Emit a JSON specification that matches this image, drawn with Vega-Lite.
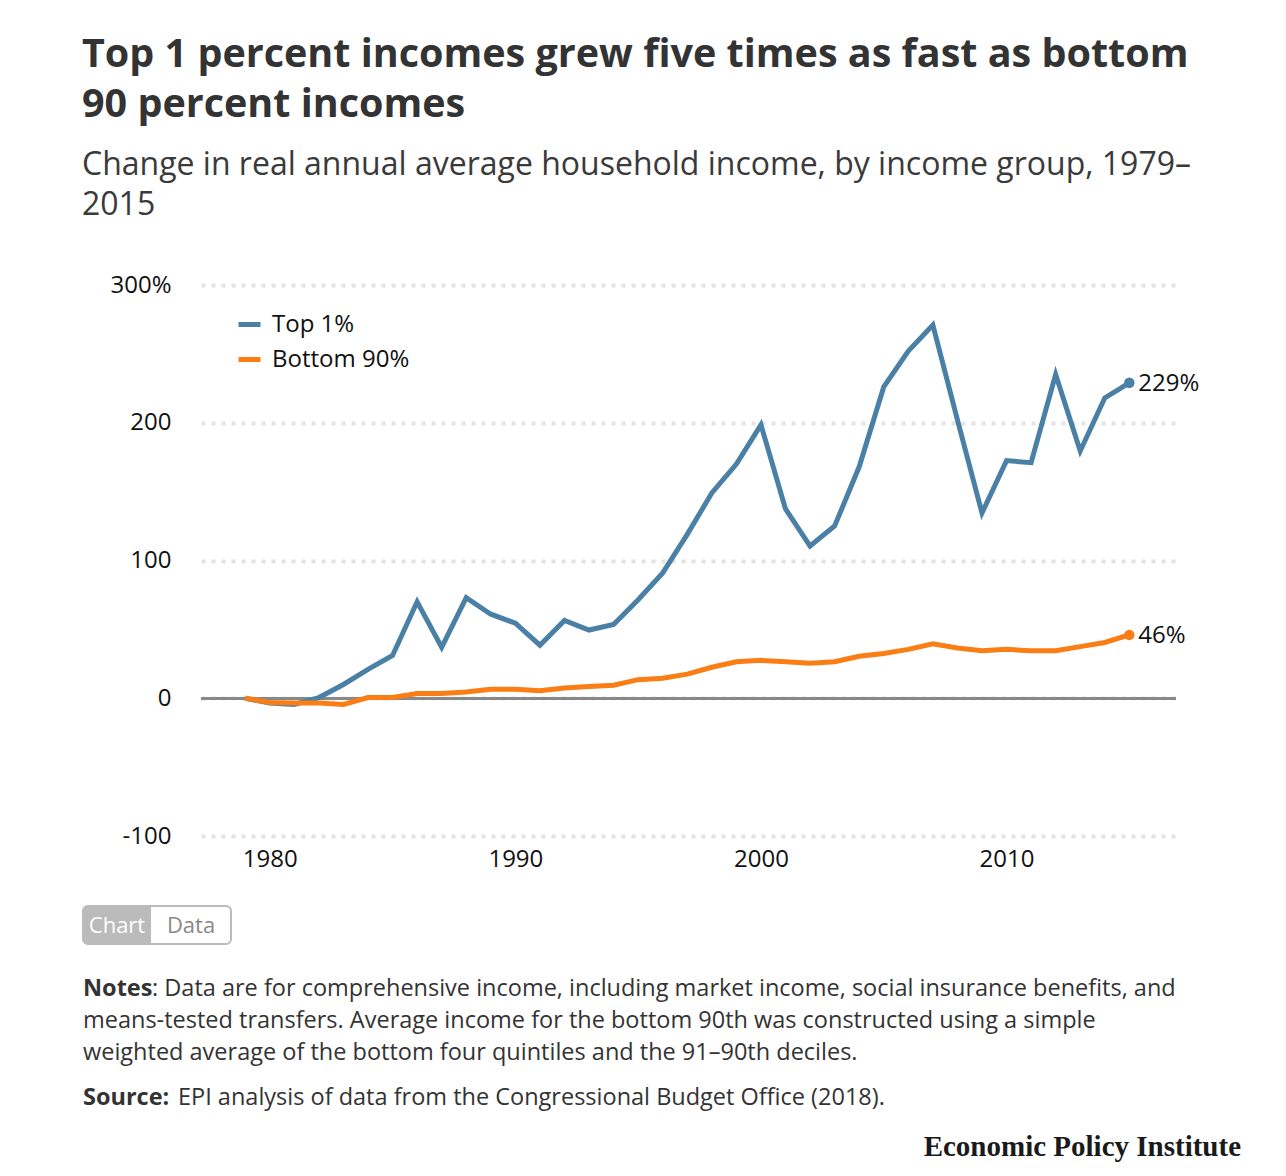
{
  "$schema": "https://vega.github.io/schema/vega-lite/v6.json",
  "width": 975,
  "height": 551,
  "padding": {"left": 82, "top": 34, "right": 10, "bottom": 8},
  "background": "white",
  "title": {
    "text": ["Top 1 percent incomes grew five times as fast as bottom", "90 percent incomes"],
    "subtitle": ["Change in real annual average household income, by income group, 1979–", "2015"],
    "anchor": "start",
    "frame": "bounds",
    "font": "Open Sans",
    "fontSize": 39.5,
    "fontWeight": "bold",
    "color": "#333333",
    "lineHeight": 50,
    "subtitleFont": "Open Sans",
    "subtitleFontSize": 32,
    "subtitleFontWeight": "normal",
    "subtitleColor": "#3a3a3a",
    "subtitleLineHeight": 40,
    "subtitlePadding": 25,
    "offset": 51
  },
  "config": {
    "view": {"stroke": null},
    "font": "Open Sans"
  },
  "datasets": {
    "income": [
      {"year": 1979, "group": "Top 1%", "value": 0},
      {"year": 1980, "group": "Top 1%", "value": -3.5},
      {"year": 1981, "group": "Top 1%", "value": -4.5},
      {"year": 1982, "group": "Top 1%", "value": 0.5},
      {"year": 1983, "group": "Top 1%", "value": 10},
      {"year": 1984, "group": "Top 1%", "value": 21},
      {"year": 1985, "group": "Top 1%", "value": 31},
      {"year": 1986, "group": "Top 1%", "value": 70},
      {"year": 1987, "group": "Top 1%", "value": 37},
      {"year": 1988, "group": "Top 1%", "value": 73},
      {"year": 1989, "group": "Top 1%", "value": 61},
      {"year": 1990, "group": "Top 1%", "value": 54.5},
      {"year": 1991, "group": "Top 1%", "value": 38.5},
      {"year": 1992, "group": "Top 1%", "value": 56.5},
      {"year": 1993, "group": "Top 1%", "value": 49.5},
      {"year": 1994, "group": "Top 1%", "value": 53.5},
      {"year": 1995, "group": "Top 1%", "value": 71.5},
      {"year": 1996, "group": "Top 1%", "value": 91},
      {"year": 1997, "group": "Top 1%", "value": 119},
      {"year": 1998, "group": "Top 1%", "value": 149},
      {"year": 1999, "group": "Top 1%", "value": 170},
      {"year": 2000, "group": "Top 1%", "value": 198.5},
      {"year": 2001, "group": "Top 1%", "value": 137.5},
      {"year": 2002, "group": "Top 1%", "value": 110.5},
      {"year": 2003, "group": "Top 1%", "value": 125},
      {"year": 2004, "group": "Top 1%", "value": 168},
      {"year": 2005, "group": "Top 1%", "value": 226},
      {"year": 2006, "group": "Top 1%", "value": 252},
      {"year": 2007, "group": "Top 1%", "value": 271},
      {"year": 2008, "group": "Top 1%", "value": 202},
      {"year": 2009, "group": "Top 1%", "value": 134.5},
      {"year": 2010, "group": "Top 1%", "value": 172.5},
      {"year": 2011, "group": "Top 1%", "value": 171},
      {"year": 2012, "group": "Top 1%", "value": 235},
      {"year": 2013, "group": "Top 1%", "value": 179.5},
      {"year": 2014, "group": "Top 1%", "value": 218},
      {"year": 2015, "group": "Top 1%", "value": 229},
      {"year": 1979, "group": "Bottom 90%", "value": 0},
      {"year": 1980, "group": "Bottom 90%", "value": -3},
      {"year": 1981, "group": "Bottom 90%", "value": -3.5},
      {"year": 1982, "group": "Bottom 90%", "value": -3.5},
      {"year": 1983, "group": "Bottom 90%", "value": -4.5},
      {"year": 1984, "group": "Bottom 90%", "value": 0.5},
      {"year": 1985, "group": "Bottom 90%", "value": 0.5},
      {"year": 1986, "group": "Bottom 90%", "value": 3.5},
      {"year": 1987, "group": "Bottom 90%", "value": 3.5},
      {"year": 1988, "group": "Bottom 90%", "value": 4.5},
      {"year": 1989, "group": "Bottom 90%", "value": 6.5},
      {"year": 1990, "group": "Bottom 90%", "value": 6.5},
      {"year": 1991, "group": "Bottom 90%", "value": 5.5},
      {"year": 1992, "group": "Bottom 90%", "value": 7.5},
      {"year": 1993, "group": "Bottom 90%", "value": 8.5},
      {"year": 1994, "group": "Bottom 90%", "value": 9.5},
      {"year": 1995, "group": "Bottom 90%", "value": 13.5},
      {"year": 1996, "group": "Bottom 90%", "value": 14.5},
      {"year": 1997, "group": "Bottom 90%", "value": 17.5},
      {"year": 1998, "group": "Bottom 90%", "value": 22.5},
      {"year": 1999, "group": "Bottom 90%", "value": 26.5},
      {"year": 2000, "group": "Bottom 90%", "value": 27.5},
      {"year": 2001, "group": "Bottom 90%", "value": 26.5},
      {"year": 2002, "group": "Bottom 90%", "value": 25.5},
      {"year": 2003, "group": "Bottom 90%", "value": 26.5},
      {"year": 2004, "group": "Bottom 90%", "value": 30.5},
      {"year": 2005, "group": "Bottom 90%", "value": 32.5},
      {"year": 2006, "group": "Bottom 90%", "value": 35.5},
      {"year": 2007, "group": "Bottom 90%", "value": 39.5},
      {"year": 2008, "group": "Bottom 90%", "value": 36.5},
      {"year": 2009, "group": "Bottom 90%", "value": 34.5},
      {"year": 2010, "group": "Bottom 90%", "value": 35.5},
      {"year": 2011, "group": "Bottom 90%", "value": 34.5},
      {"year": 2012, "group": "Bottom 90%", "value": 34.5},
      {"year": 2013, "group": "Bottom 90%", "value": 37.5},
      {"year": 2014, "group": "Bottom 90%", "value": 40.5},
      {"year": 2015, "group": "Bottom 90%", "value": 46}
    ]
  },
  "data": {"name": "income"},
  "layer": [
    {
      "mark": {"type": "rule", "color": "#888888", "strokeWidth": 2},
      "encoding": {
        "y": {"datum": 0, "type": "quantitative", "scale": {"domain": [-100, 300], "nice": false, "zero": false}}
      }
    },
    {
      "mark": {"type": "line", "strokeWidth": 5, "strokeJoin": "miter"},
      "encoding": {
        "x": {
          "field": "year", "type": "quantitative",
          "scale": {"domain": [1977.2, 2016.9], "nice": false, "zero": false},
          "axis": {
            "title": null, "values": [1980, 1990, 2000, 2010], "format": "d",
            "grid": false, "ticks": false, "domain": false,
            "labelFont": "Open Sans", "labelFontSize": 24, "labelColor": "#111111", "labelPadding": 11
          }
        },
        "y": {
          "field": "value", "type": "quantitative",
          "scale": {"domain": [-100, 300], "nice": false, "zero": false},
          "axis": {
            "title": null, "values": [-100, 0, 100, 200, 300],
            "labelExpr": "datum.value == 300 ? '300%' : '' + datum.value",
            "ticks": false, "domain": false, "labelPadding": 30,
            "labelFont": "Open Sans", "labelFontSize": 24, "labelColor": "#111111",
            "grid": true, "gridColor": "#e3e3e3", "gridWidth": 4, "gridDash": [4, 6]
          }
        },
        "color": {
          "field": "group", "type": "nominal",
          "scale": {"domain": ["Top 1%", "Bottom 90%"], "range": ["#4b80a6", "#fb7e14"]},
          "legend": {
            "orient": "none", "legendX": 35, "legendY": 26, "title": null,
            "labelFont": "Open Sans", "labelFontSize": 24, "labelColor": "#111111",
            "symbolType": "stroke", "symbolStrokeWidth": 5, "symbolSize": 484,
            "labelOffset": 9, "rowPadding": 9
          }
        }
      }
    },
    {
      "transform": [{"filter": "datum.year == 2015"}],
      "mark": {"type": "circle", "size": 110, "opacity": 1},
      "encoding": {
        "x": {"field": "year", "type": "quantitative"},
        "y": {"field": "value", "type": "quantitative"},
        "color": {"field": "group", "type": "nominal", "legend": null}
      }
    },
    {
      "transform": [{"filter": "datum.year == 2015"}],
      "mark": {"type": "text", "align": "left", "baseline": "middle", "dx": 9, "dy": 1, "fontSize": 24, "font": "Open Sans", "color": "#111111", "text": {"expr": "datum.value + '%'"}},
      "encoding": {
        "x": {"field": "year", "type": "quantitative"},
        "y": {"field": "value", "type": "quantitative"}
      }
    },
    {
      "data": {"values": [{"k": "frame"}]},
      "mark": {"type": "rect", "x": -118, "x2": 30, "y": 621, "y2": 659, "fill": "#ffffff", "stroke": "#bbbbbb", "strokeWidth": 2, "cornerRadius": 5}
    },
    {
      "data": {"values": [{"k": "active"}]},
      "mark": {"type": "rect", "x": -118, "x2": -50, "y": 621, "y2": 659, "fill": "#bbbbbb", "cornerRadiusTopLeft": 5, "cornerRadiusBottomLeft": 5}
    },
    {
      "data": {"values": [{"t": "Chart"}]},
      "mark": {"type": "text", "x": -84, "y": 641, "align": "center", "baseline": "middle", "font": "Open Sans", "fontSize": 22, "color": "#ffffff"},
      "encoding": {"text": {"field": "t"}}
    },
    {
      "data": {"values": [{"t": "Data"}]},
      "mark": {"type": "text", "x": -10, "y": 641, "align": "center", "baseline": "middle", "font": "Open Sans", "fontSize": 22, "color": "#888888"},
      "encoding": {"text": {"field": "t"}}
    },
    {
      "data": {"values": [{"t": "Notes"}]},
      "mark": {"type": "text", "x": -118, "y": 711, "align": "left", "baseline": "alphabetic", "font": "Open Sans", "fontSize": 23.5, "fontWeight": "bold", "color": "#333333"},
      "encoding": {"text": {"field": "t"}}
    },
    {
      "data": {"values": [{"t": ": Data are for comprehensive income, including market income, social insurance benefits, and"}]},
      "mark": {"type": "text", "x": -49, "y": 711, "align": "left", "baseline": "alphabetic", "font": "Open Sans", "fontSize": 23.5, "color": "#333333"},
      "encoding": {"text": {"field": "t"}}
    },
    {
      "data": {"values": [{"t": "means-tested transfers. Average income for the bottom 90th was constructed using a simple"}]},
      "mark": {"type": "text", "x": -118, "y": 743, "align": "left", "baseline": "alphabetic", "font": "Open Sans", "fontSize": 23.5, "color": "#333333"},
      "encoding": {"text": {"field": "t"}}
    },
    {
      "data": {"values": [{"t": "weighted average of the bottom four quintiles and the 91–90th deciles."}]},
      "mark": {"type": "text", "x": -118, "y": 775, "align": "left", "baseline": "alphabetic", "font": "Open Sans", "fontSize": 23.5, "color": "#333333"},
      "encoding": {"text": {"field": "t"}}
    },
    {
      "data": {"values": [{"t": "Source:"}]},
      "mark": {"type": "text", "x": -118, "y": 820, "align": "left", "baseline": "alphabetic", "font": "Open Sans", "fontSize": 23.5, "fontWeight": "bold", "color": "#333333"},
      "encoding": {"text": {"field": "t"}}
    },
    {
      "data": {"values": [{"t": "EPI analysis of data from the Congressional Budget Office (2018)."}]},
      "mark": {"type": "text", "x": -23, "y": 820, "align": "left", "baseline": "alphabetic", "font": "Open Sans", "fontSize": 23.5, "color": "#333333"},
      "encoding": {"text": {"field": "t"}}
    },
    {
      "data": {"values": [{"t": "Economic Policy Institute"}]},
      "mark": {"type": "text", "x": 1040, "y": 871, "align": "right", "baseline": "alphabetic", "font": "Liberation Serif", "fontSize": 29, "fontWeight": "bold", "color": "#1a1a1a"},
      "encoding": {"text": {"field": "t"}}
    }
  ]
}
